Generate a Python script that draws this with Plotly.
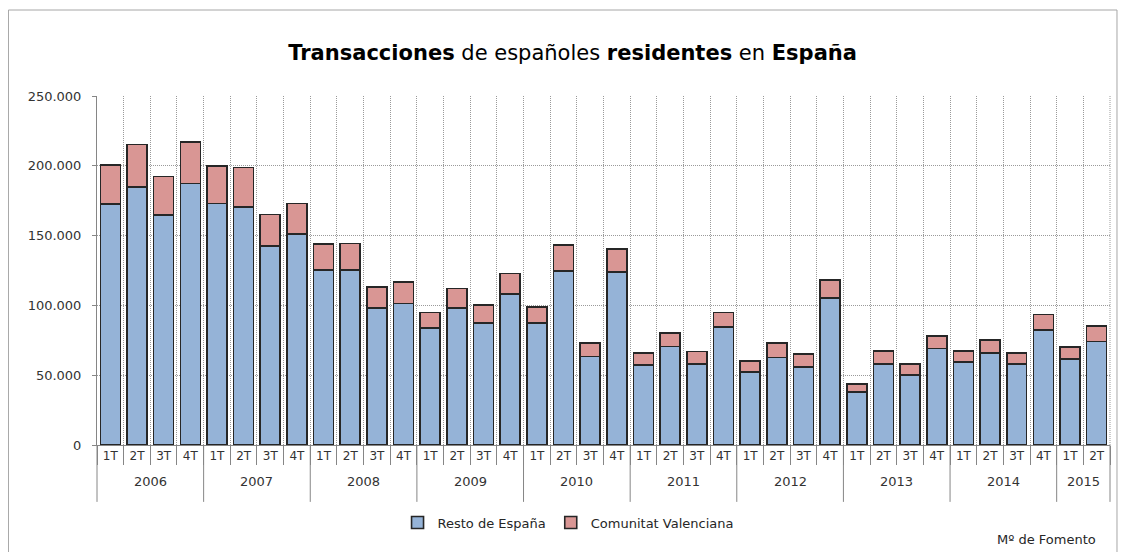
import plotly.graph_objects as go

# data
years = ["2006"] * 4 + ["2007"] * 4 + ["2008"] * 4 + ["2009"] * 4 + ["2010"] * 4 + \
        ["2011"] * 4 + ["2012"] * 4 + ["2013"] * 4 + ["2014"] * 4 + ["2015"] * 2
quarters = ["1T", "2T", "3T", "4T"] * 9 + ["1T", "2T"]

resto_espana = [172500, 184900, 164800, 187300, 172900, 170600, 142700, 151000,
                125500, 125200, 98300, 101400, 84000, 98000, 87300, 108100,
                87300, 124500, 63500, 123800, 57300, 70600, 58200, 84400,
                52200, 62700, 55800, 105200, 37900, 58000, 50300, 69200,
                59400, 66100, 58000, 82500, 61800, 74200]
comunitat_valenciana = [27900, 30500, 27500, 29800, 26800, 28100, 22400, 21900,
                        18300, 19100, 15000, 15500, 10900, 14100, 12900, 14800,
                        11700, 18600, 9500, 16500, 8500, 9800, 8800, 10500,
                        7900, 10300, 9300, 12900, 6000, 9300, 7700, 9000,
                        7900, 9300, 7800, 11000, 8300, 11200]

font_family = "DejaVu Sans, sans-serif"
outline = dict(color="#262626", width=1.6)
axis_grey = "#868686"
grid_grey = "#9A9A9A"

# one unique category per quarter, labelled only with the quarter
cats = [f"{y} {q}" for y, q in zip(years, quarters)]
n = len(cats)

fig = go.Figure()
fig.add_trace(go.Bar(x=cats, y=resto_espana, name="Resto de España",
                     marker=dict(color="#95B3D7", line=outline)))
fig.add_trace(go.Bar(x=cats, y=comunitat_valenciana, name="Comunitat Valenciana",
                     marker=dict(color="#D99694", line=outline)))

# page body has an 8px margin, so the figure is a bit smaller than the window
fig.update_layout(
    width=1118, height=544,
    barmode="stack", bargap=0.25,
    separators=",.",
    paper_bgcolor="white", plot_bgcolor="white",
    margin=dict(l=89, r=16, t=88, b=107),
    font=dict(family=font_family, size=12, color="#262626"),
    title=dict(
        text="<b>Transacciones</b> de españoles <b>residentes</b> en <b>España</b>",
        x=0.505, y=0.918, xanchor="center", yanchor="middle",
        font=dict(size=21, color="black"),
    ),
    legend=dict(orientation="h", x=0.465, xanchor="center", y=-0.222, yanchor="middle",
                font=dict(size=13), traceorder="normal", itemwidth=30),
    showlegend=True,
)

fig.update_yaxes(
    range=[0, 250000], dtick=50000, tickformat=",d",
    showline=True, linecolor=axis_grey, linewidth=1,
    ticks="outside", ticklen=4, tickcolor=axis_grey, ticklabelstandoff=8,
    tickfont=dict(size=13, color="#333333"),
    showgrid=True, gridcolor=grid_grey, griddash="1px,1px", gridwidth=1,
    zeroline=False,
)
fig.update_xaxes(
    type="category", tickmode="array", tickvals=cats, ticktext=quarters,
    showline=True, linecolor=axis_grey, linewidth=1,
    ticks="outside", tickson="boundaries", ticklen=19, tickcolor=axis_grey,
    showgrid=True, gridcolor=grid_grey, griddash="1px,1px", gridwidth=1,
    tickfont=dict(size=12, color="#333333"), tickangle=0,
)

# right edge of the plot area (dotted like the grid)
fig.add_shape(type="line", xref="paper", yref="paper", x0=1, x1=1, y0=0, y1=1,
              line=dict(color=grid_grey, width=1, dash="1px,1px"))

# year groups: dividers and labels under the quarter labels
groups = []
for i, y in enumerate(years):
    if not groups or groups[-1][0] != y:
        groups.append([y, i, i + 1])
    else:
        groups[-1][2] = i + 1
for y, start, end in groups:
    fig.add_shape(type="line", xref="paper", yref="paper",
                  x0=start / n, x1=start / n, y0=0, y1=-0.163,
                  line=dict(color=axis_grey, width=1))
    fig.add_annotation(text=y, xref="paper", yref="paper",
                       x=(start + end) / 2 / n, y=-0.105, xanchor="center", yanchor="middle",
                       showarrow=False, font=dict(size=13, color="#333333"))
fig.add_shape(type="line", xref="paper", yref="paper", x0=1, x1=1, y0=0, y1=-0.163,
              line=dict(color=axis_grey, width=1))

# outer chart frame
fig.add_shape(type="rect", xref="paper", yref="paper",
              x0=-0.0874, x1=1.0069, y0=-0.35, y1=1.2464,
              line=dict(color="#A6A6A6", width=1), layer="below")

fig.add_annotation(text="Mº de Fomento", xref="paper", yref="paper",
                   x=0.988, y=-0.272, xanchor="right", yanchor="middle",
                   showarrow=False, font=dict(size=13, color="#262626"))

fig.write_html("out.html")
